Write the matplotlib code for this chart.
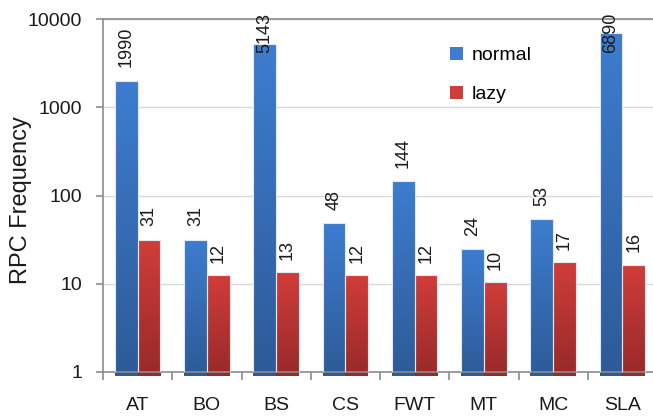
import numpy as np
import matplotlib.pyplot as plt
from matplotlib.colors import to_rgb
from matplotlib.patches import Patch

plt.rcParams['font.family'] = ['Liberation Sans', 'DejaVu Sans']

categories = ['AT', 'BO', 'BS', 'CS', 'FWT', 'MT', 'MC', 'SLA']
normal = [1990, 31, 5143, 48, 144, 24, 53, 6890]
lazy = [31, 12, 13, 12, 12, 10, 17, 16]

blue_top, blue_bot = '#3d7dcf', '#2d5b98'
red_top, red_bot = '#d03d3a', '#982a29'

W, H = 653, 416
fig = plt.figure(figsize=(W / 100, H / 100), dpi=100)
ax_l, ax_r, ax_t, ax_b = 103, 657, 19, 372
ax = fig.add_axes([ax_l / W, (H - ax_b) / H, (ax_r - ax_l) / W, (ax_b - ax_t) / H])

ax.set_yscale('log')
ax.set_xlim(-0.5, len(categories) - 0.5)
ax.set_ylim(1, 10000)

x = np.arange(len(categories))
bw = 0.33


def gradient_bars(xs, vals, c_top, c_bot):
    # the bar patches only serve as outline and clip shape for the gradient
    bars = ax.bar(xs, vals, bw, bottom=0.5, facecolor='none', edgecolor='#e3e7ee',
                  linewidth=0.8, zorder=3)
    to_axes = ax.transData + ax.transAxes.inverted()
    c0 = np.array(to_rgb(c_bot))
    c1 = np.array(to_rgb(c_top))
    t = np.linspace(0, 1, 64)[:, None]
    img = (c0 * t + c1 * (1 - t))[:, None, :]
    for b, v in zip(bars, vals):
        x0, y0 = to_axes.transform((b.get_x(), 1))
        x1, y1 = to_axes.transform((b.get_x() + b.get_width(), v))
        im = ax.imshow(img, extent=[x0 - 0.01, x1 + 0.01, y0 - 0.01, y1 + 0.005],
                       transform=ax.transAxes, aspect='auto', zorder=2.5,
                       interpolation='bilinear')
        im.set_clip_path(b)
    return bars


gradient_bars(x - bw / 2, normal, blue_top, blue_bot)
gradient_bars(x + bw / 2, lazy, red_top, red_bot)

# value labels above the bars, pushed down when they would run off the top
ax_h = ax_b - ax_t
for xs, vals in ((x - bw / 2, normal), (x + bw / 2, lazy)):
    for xi, v in zip(xs, vals):
        s = str(v)
        top = np.log10(v) / 4 + (14 + len(s) * 10.3) / ax_h
        if top > 1 + 6 / ax_h:
            ax.annotate(s, (xi, 1 + 6 / ax_h), xycoords=('data', 'axes fraction'),
                        rotation=90, ha='center', va='top', fontsize=13,
                        color='#1a1a1a', zorder=4, annotation_clip=False)
        else:
            ax.annotate(s, (xi, v), xytext=(0, 10), textcoords='offset points',
                        rotation=90, ha='center', va='bottom', fontsize=13,
                        color='#1a1a1a', zorder=4)

# axes styling
ax.yaxis.grid(True, color='#d9d9d9', linewidth=1)
ax.axhline(10000, color='#8c8c8c', linewidth=1.2, zorder=1, clip_on=False)
ax.set_axisbelow(True)
for side in ('top', 'right'):
    ax.spines[side].set_visible(False)
for side in ('left', 'bottom'):
    ax.spines[side].set_color('#8c8c8c')
    ax.spines[side].set_linewidth(1.2)

ax.set_yticks([1, 10, 100, 1000, 10000])
ax.set_yticklabels(['1', '10', '100', '1000', '10000'])
ax.yaxis.set_minor_locator(plt.NullLocator())
ax.tick_params(axis='y', which='major', length=5, width=1.2, color='#8c8c8c',
               labelsize=14, pad=10, labelcolor='#1a1a1a')

ax.set_xticks(x)
ax.set_xticklabels(categories)
ax.set_xticks(np.arange(len(categories) + 1) - 0.5, minor=True)
ax.tick_params(axis='x', which='major', length=0, labelsize=14, pad=18,
               labelcolor='#1a1a1a')
ax.tick_params(axis='x', which='minor', length=6, width=1.2, color='#8c8c8c')

ax.set_ylabel('RPC Frequency', fontsize=17, color='#1a1a1a')
ax.yaxis.set_label_coords(-0.128, 0.487)

handles = [Patch(facecolor=blue_top, edgecolor='none'),
           Patch(facecolor=red_top, edgecolor='none')]
ax.legend(handles, ['normal', 'lazy'], loc='upper left', bbox_to_anchor=(0.595, 0.97),
          frameon=False, fontsize=14, handlelength=0.65, handleheight=0.65,
          handletextpad=0.45, labelspacing=1.1)

fig.savefig('out.png', dpi=100)
